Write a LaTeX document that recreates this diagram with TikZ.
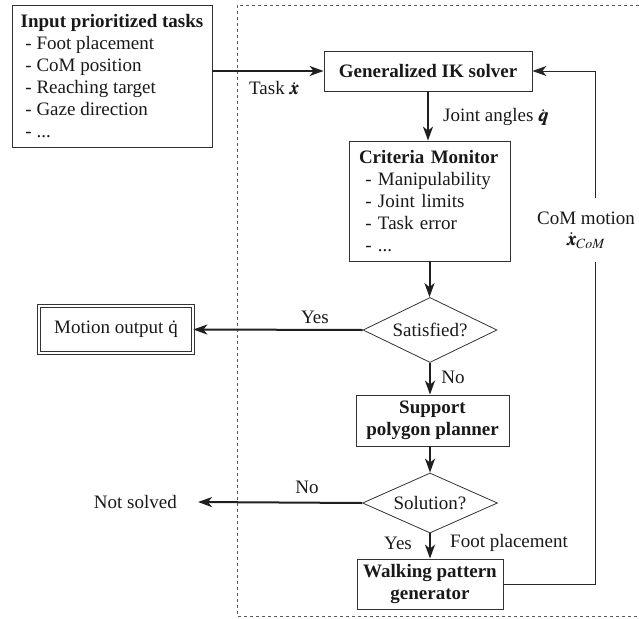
\documentclass[tikz,border=0pt]{standalone}
\usepackage{amsmath}
\usepackage{mathptmx}
\usepackage{bm}
\usepackage{fontspec}
\setmainfont{Liberation Serif}
\usetikzlibrary{arrows.meta,shapes.geometric}
\tikzset{
  box/.style={draw=black!80, line width=0.8pt, rectangle, inner sep=0pt},
  dia/.style={draw=black!80, line width=0.8pt, diamond, aspect=2, inner sep=0pt},
  tip/.style={-{Stealth[length=14pt,width=10pt,inset=4pt]}},
  arr/.style={tip, line width=2pt, draw=black!88},
  thinarr/.style={tip, line width=1pt, draw=black!85},
  dashbox/.style={draw=black!65, line width=0.8pt, dash pattern=on 3pt off 3pt},
  lbl/.style={inner sep=0pt}
}
\begin{document}
\begin{tikzpicture}[x=1pt,y=-1pt,font=\fontsize{19}{22}\selectfont,text=black!90]
\useasboundingbox (0,0) rectangle (639,618);
% dashed region
\draw[dashbox] (639,5) -- (237,5) -- (237,616) -- (639,616);
% nodes
\node[box, minimum width=200pt, minimum height=142pt, align=left] (inp) at (112,76)
  {\textbf{Input prioritized tasks}\\ ~- Foot placement\\ ~- CoM position\\ ~- Reaching target\\ ~- Gaze direction\\ ~- ...};
\node[box, minimum width=208pt, minimum height=40pt, font=\fontsize{19}{22}\selectfont\bfseries] (ik) at (428,71) {Generalized IK solver};
\node[box, minimum width=161pt, minimum height=120pt, text width=141pt, align=left] (crit) at (429.5,201)
  {\textbf{Criteria Monitor}\\ ~- Manipulability\\ ~- Joint limits\\ ~- Task error\\ ~- ...};
\node[dia, minimum width=134pt, minimum height=65pt] (sat) at (430,330) {Satisfied?};
\node[box, double, double distance=1.8pt, line width=0.7pt, minimum width=154pt, minimum height=47pt] (mot) at (116,329.5) {Motion output \.{q}};
\node[box, minimum width=153pt, minimum height=51pt, align=center, font=\fontsize{19}{22}\selectfont\bfseries] (sup) at (432.5,420.5) {Support\\polygon planner};
\node[dia, minimum width=135pt, minimum height=60pt] (sol) at (430,503) {Solution?};
\node[box, minimum width=146pt, minimum height=50pt, align=center, font=\fontsize{19}{22}\selectfont\bfseries] (walk) at (430,584) {Walking pattern\\generator};
\node[lbl, anchor=east] (ns) at (177,502) {Not solved};
\coordinate (fb) at (595,0);
% connectors
\draw[arr] (inp.east |- ik.west) -- (ik.west);
\draw[arr] (ik.south) -- (ik.south |- crit.north);
\draw[arr] (crit.south) -- (crit.south |- sat.north);
\draw[arr] (sat.west) -- (mot.east);
\draw[arr] (sat.south) -- (sat.south |- sup.north);
\draw[arr] (sup.south -| sol.north) -- (sol.north);
\draw[arr] (sol.west) -- ([xshift=21pt]ns.east);
\draw[arr] (sol.south) -- (sol.south |- walk.north);
\draw[thinarr] (walk.east) -- (walk.east -| fb) -- (fb |- ik.east) -- (ik.east);
% labels
\node[fill=white, inner sep=2pt, minimum height=64pt, align=center] (com) at (586,230) {CoM motion\\[-1pt]$\dot{\bm{x}}_{CoM}$};
\node[lbl] (tk) at (274,88) {Task $\dot{\bm{x}}$};
\node[lbl, anchor=west] (ja) at (443,117) {Joint angles $\dot{\bm{q}}$};
\node[lbl] (y1) at (315,317) {Yes};
\node[lbl] (n1) at (453,377) {No};
\node[lbl] (n2) at (307,487) {No};
\node[lbl] (y2) at (398,543) {Yes};
\node[lbl, anchor=west] (fp) at (450,543) {Foot placement};
\end{tikzpicture}
\end{document}
